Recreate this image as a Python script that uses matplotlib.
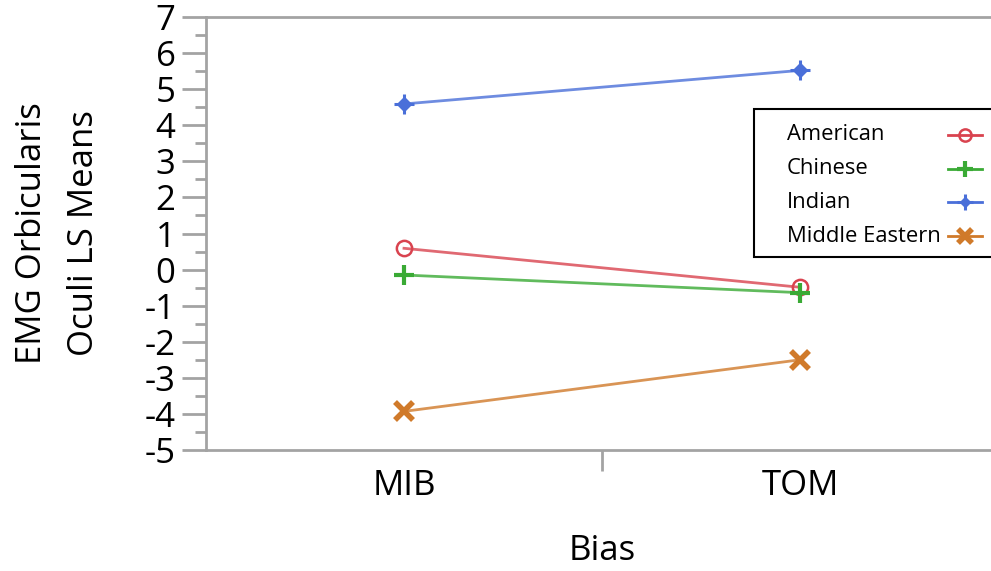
import matplotlib
matplotlib.use("Agg")
import matplotlib.pyplot as plt
from matplotlib.lines import Line2D
from matplotlib.patches import Rectangle

# LS means
bias = ["MIB", "TOM"]
american = [0.59, -0.49]
chinese = [-0.15, -0.64]
indian = [4.59, 5.52]
middle_eastern = [-3.93, -2.50]
groups = ["American", "Chinese", "Indian", "Middle Eastern"]
y_ticks = list(range(-5, 8))

RED = "#d9434f"
GREEN = "#3aaa35"
BLUE = "#4a6fd9"
ORANGE = "#d07a2a"
GRID = "#a3a3a3"
FONT = "Open Sans"

W, H = 991, 571
fig = plt.figure(figsize=(W / 100, H / 100), dpi=100)
# axes runs off the right edge, as in the reference
ax = fig.add_axes([206 / W, (H - 450) / H, 792 / W, 433 / H])

# marker styles per group; Indian is a diamond with a cross through it
styles = {
    "American": [dict(marker="o", ms=11, mfc="none", mew=1.8)],
    "Chinese": [dict(marker="+", ms=15, mew=3)],
    "Indian": [dict(marker="+", ms=15, mew=2.2), dict(marker="D", ms=7, mew=1)],
    "Middle Eastern": [dict(marker="x", ms=13, mew=4)],
}
colors = dict(zip(groups, [RED, GREEN, BLUE, ORANGE]))
values = dict(zip(groups, [american, chinese, indian, middle_eastern]))


def marker_kw(st, color, scale=1.0):
    kw = {k: v for k, v in st.items() if k not in ("mfc", "ms")}
    return dict(mec=color, mfc=st.get("mfc", color), ms=st["ms"] * scale, **kw)


x = [0.25, 0.75]
for g in groups:
    ax.plot(x, values[g], color=colors[g], lw=2, alpha=0.8)
    for st in styles[g]:
        ax.plot(x, values[g], ls="none", **marker_kw(st, colors[g]))

ax.set_xlim(0, 1)
ax.set_ylim(-5, 7)
ax.set_xticks(x)
ax.set_xticklabels(bias, fontsize=25, family=FONT)
ax.set_xticks([0.5], minor=True)
ax.tick_params(axis="x", which="major", length=0, pad=14)
ax.tick_params(axis="x", which="minor", length=15, width=2, color=GRID)

ax.set_yticks(y_ticks)
ax.set_yticklabels([str(v) for v in y_ticks], fontsize=25, family=FONT)
ax.set_yticks([v + 0.5 for v in y_ticks[:-1]], minor=True)
ax.tick_params(axis="y", which="major", length=17, width=2, color=GRID, pad=5)
ax.tick_params(axis="y", which="minor", length=8, width=2, color=GRID)

for side in ["left", "bottom", "top"]:
    ax.spines[side].set_color(GRID)
    ax.spines[side].set_linewidth(2)
ax.spines["right"].set_visible(False)

ax.set_xlabel("Bias", fontsize=25, family=FONT, labelpad=22)
ax.set_ylabel("EMG Orbicularis\nOculi LS Means", fontsize=25, family=FONT,
              labelpad=31, linespacing=1.7)

# legend drawn by hand: text on the left, marker on the right, box runs off the edge
fig.patches.append(Rectangle((754 / W, 1 - 257 / H), 260 / W, 148 / H,
                             transform=fig.transFigure, fill=True, fc="white",
                             ec="black", lw=1.5, zorder=5))
for i, g in enumerate(groups):
    yy = 1 - (135 + i * 33.7) / H
    fig.text(787 / W, yy, g, fontsize=15.8, family=FONT, va="center", ha="left",
             zorder=6)
    fig.add_artist(Line2D([948 / W, 982 / W], [yy, yy], transform=fig.transFigure,
                          color=colors[g], lw=2, zorder=6))
    for st in styles[g]:
        fig.add_artist(Line2D([965 / W], [yy], transform=fig.transFigure, ls="none",
                              zorder=7, **marker_kw(st, colors[g], 0.8)))

fig.savefig("out.png", dpi=100)
